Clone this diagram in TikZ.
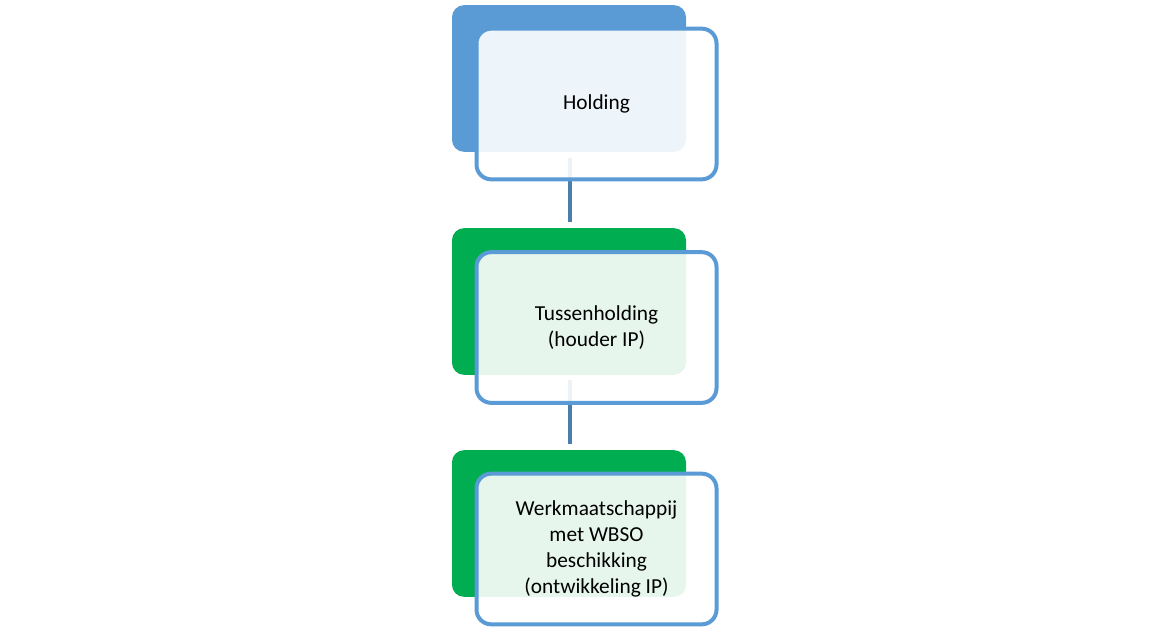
\documentclass[tikz,border=0pt]{standalone}
\usepackage{fontspec}
\setmainfont{Carlito}
\usetikzlibrary{positioning}
\definecolor{boxblue}{HTML}{5B9BD5}
\definecolor{boxgreen}{HTML}{00AD50}
\definecolor{linkblue}{HTML}{4A7EAD}

\begin{document}
\begin{tikzpicture}[x=0.75pt,y=-0.75pt,
    back/.style={rectangle, rounded corners=9pt, minimum width=175.5pt, minimum height=110pt, inner sep=0pt},
    front/.style={rectangle, rounded corners=11pt, draw=boxblue, line width=3pt, fill=white, fill opacity=0.9, text opacity=1,
      minimum width=180pt, minimum height=113pt, align=center, font=\fontsize{16}{19.5}\selectfont},
    link/.style={linkblue, line width=3.5pt}]
  \useasboundingbox (0,0) rectangle (1165,628);

  \node [back, fill=boxblue] (holdingback) at (569,78.5) {};
  \node [back, fill=boxgreen] (tussenback) at (569,301.5) {};
  \node [back, fill=boxgreen] (werkback) at (569,523.5) {};

  \coordinate (l1a) at (570,158);
  \coordinate (l1b) at (570,222);
  \coordinate (l2a) at (570,380);
  \coordinate (l2b) at (570,444);
  \draw [link] (l1a) -- (l1b);
  \draw [link] (l2a) -- (l2b);

  \node [front] (holding) at (596.5,104) {Holding};
  \node [front] (tussen) at (596.5,327.5) {Tussenholding\\(houder IP)};
  \node [front] (werk) at (596.5,549) {Werkmaatschappij\\met WBSO\\beschikking\\(ontwikkeling IP)};
\end{tikzpicture}
\end{document}
